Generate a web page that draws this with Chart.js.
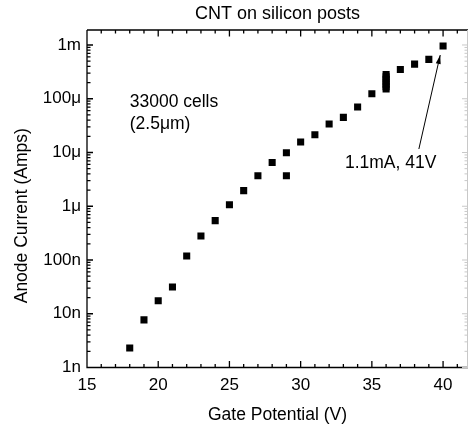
<!DOCTYPE html>
<html>
<head>
<meta charset="utf-8">
<script src="https://cdn.jsdelivr.net/npm/chart.js@4/dist/chart.umd.min.js"></script>
<style>
  html, body { margin: 0; padding: 0; background: #fff; overflow: hidden; }
  #wrap { width: 473px; height: 427px; position: relative; }
</style>
</head>
<body>
<div id="wrap"><canvas id="chart"></canvas></div>
<script>
// Gate potential (V) and anode current (A)
var gateVolts = [18, 19, 20, 21, 22, 23, 24, 25, 26, 27, 28, 29, 29, 30, 31, 32, 33, 34, 35,
  36, 36, 36, 36, 36, 36, 36, 37, 38, 39, 40];
var anodeAmps = [2.3e-9, 7.7e-9, 1.75e-8, 3.15e-8, 1.19e-7, 2.8e-7, 5.4e-7, 1.07e-6, 1.95e-6,
  3.7e-6, 6.5e-6, 9.9e-6, 3.7e-6, 1.57e-5, 2.14e-5, 3.4e-5, 4.5e-5, 7.0e-5, 1.24e-4,
  2.83e-4, 2.55e-4, 2.3e-4, 2.07e-4, 1.87e-4, 1.68e-4, 1.52e-4, 3.5e-4, 4.4e-4, 5.4e-4, 9.6e-4];

var xTickValues = [15, 20, 25, 30, 35, 40];
var yTickValues = [1e-9, 1e-8, 1e-7, 1e-6, 1e-5, 1e-4, 1e-3];
var yTickLabels = ['1n', '10n', '100n', '1\u03bc', '10\u03bc', '100\u03bc', '1m'];

var FONT = '"Liberation Sans", Arial, sans-serif';
Chart.defaults.color = '#000';
Chart.defaults.font.family = FONT;

var points = gateVolts.map(function (v, i) { return { x: v, y: anodeAmps[i] }; });

// inward tick marks and the frame, placed through the chart's own scales
var framePlugin = {
  id: 'frame',
  afterDatasetsDraw: function (chart) {
    var ctx = chart.ctx, a = chart.chartArea;
    var xs = chart.scales.x, ys = chart.scales.y;
    ctx.save();
    ctx.lineWidth = 1.3;
    ctx.strokeStyle = '#000';
    ctx.beginPath();
    ctx.moveTo(a.left, a.top); ctx.lineTo(a.right, a.top);
    ctx.moveTo(a.left, a.top); ctx.lineTo(a.left, a.bottom); ctx.lineTo(a.right, a.bottom);
    var v, px, len;
    for (v = Math.ceil(xs.min); v <= xs.max; v++) {
      px = xs.getPixelForValue(v);
      len = v % 5 === 0 ? 6.5 : 3.5;
      ctx.moveTo(px, a.bottom); ctx.lineTo(px, a.bottom - len);
      ctx.moveTo(px, a.top); ctx.lineTo(px, a.top + len);
    }
    var right = [];
    for (var d = -9; d <= -3; d++) {
      for (var m = 1; m <= 9; m++) {
        v = m * Math.pow(10, d);
        if (v > ys.max) break;
        px = ys.getPixelForValue(v);
        len = m === 1 ? 6 : 3.5;
        ctx.moveTo(a.left, px); ctx.lineTo(a.left + len, px);
        right.push([px, len]);
      }
    }
    ctx.stroke();
    ctx.strokeStyle = '#c8c8c8';
    ctx.lineWidth = 1;
    ctx.beginPath();
    ctx.moveTo(a.right - 0.5, a.top); ctx.lineTo(a.right - 0.5, a.bottom);
    right.forEach(function (r) { ctx.moveTo(a.right, r[0]); ctx.lineTo(a.right - r[1], r[0]); });
    ctx.stroke();
    ctx.restore();
  }
};

// text notes and the arrow, positioned in data units
var noteCells = { x: 18.0, y: 8.5e-5 };
var noteArrowText = { x: 36.32, y: 6.45e-6 };
var arrowFrom = { x: 38.3, y: 1.16e-5 };
var arrowTo = { x: 39.8, y: 6.5e-4 };

var notesPlugin = {
  id: 'notes',
  afterDraw: function (chart) {
    var ctx = chart.ctx, xs = chart.scales.x, ys = chart.scales.y, a = chart.chartArea;
    ctx.save();
    ctx.fillStyle = '#000';
    ctx.font = '17.5px ' + FONT;
    ctx.textBaseline = 'middle';
    ctx.textAlign = 'left';
    var cx = xs.getPixelForValue(noteCells.x), cy = ys.getPixelForValue(noteCells.y);
    ctx.fillText('33000 cells', cx, cy);
    ctx.fillText('(2.5\u03bcm)', cx, cy + 21.5);
    ctx.textAlign = 'center';
    ctx.fillText('1.1mA, 41V', xs.getPixelForValue(noteArrowText.x), ys.getPixelForValue(noteArrowText.y));

    var x1 = xs.getPixelForValue(arrowFrom.x), y1 = ys.getPixelForValue(arrowFrom.y);
    var x2 = xs.getPixelForValue(arrowTo.x), y2 = ys.getPixelForValue(arrowTo.y);
    var ang = Math.atan2(y2 - y1, x2 - x1);
    ctx.strokeStyle = '#000';
    ctx.lineWidth = 1;
    ctx.beginPath();
    ctx.moveTo(x1, y1); ctx.lineTo(x2, y2);
    ctx.stroke();
    ctx.beginPath();
    ctx.moveTo(x2, y2);
    ctx.lineTo(x2 - 9 * Math.cos(ang) + 2.5 * Math.sin(ang), y2 - 9 * Math.sin(ang) - 2.5 * Math.cos(ang));
    ctx.lineTo(x2 - 9 * Math.cos(ang) - 2.5 * Math.sin(ang), y2 - 9 * Math.sin(ang) + 2.5 * Math.cos(ang));
    ctx.closePath();
    ctx.fill();

    // y axis title sits a little below the middle of the axis in the original
    ctx.translate(22, (a.top + a.bottom) / 2 + 17);
    ctx.rotate(-Math.PI / 2);
    ctx.textAlign = 'center';
    ctx.fillText('Anode Current (Amps)', 0, 0);
    ctx.restore();
  }
};

new Chart(document.getElementById('chart').getContext('2d'), {
  type: 'scatter',
  data: {
    datasets: [{
      data: points,
      pointStyle: 'rect',
      pointRadius: 5,
      pointBorderWidth: 0,
      backgroundColor: '#000',
      borderColor: '#000',
      showLine: false
    }]
  },
  options: {
    responsive: true,
    maintainAspectRatio: false,
    animation: false,
    layout: { padding: { left: 0, right: 1, top: 0, bottom: 0 } },
    plugins: {
      legend: { display: false },
      tooltip: { enabled: false },
      title: {
        display: true,
        text: 'CNT on silicon posts',
        fullSize: false,
        color: '#000',
        font: { size: 18, weight: 'normal', family: FONT },
        padding: { top: 3, bottom: 5.4 }
      }
    },
    scales: {
      x: {
        type: 'linear',
        min: 15,
        max: 41.75,
        grid: { display: false, drawTicks: false },
        border: { display: false },
        afterBuildTicks: function (scale) {
          scale.ticks = xTickValues.map(function (v) { return { value: v }; });
        },
        afterFit: function (scale) { scale.height = 59.5; },
        ticks: { font: { size: 17 }, padding: 8, maxRotation: 0, autoSkip: false },
        title: {
          display: true,
          text: 'Gate Potential (V)',
          font: { size: 17.5 },
          padding: { top: 4, bottom: 1 }
        }
      },
      y: {
        type: 'logarithmic',
        min: 1e-9,
        max: 1.9e-3,
        grid: { display: false, drawTicks: false },
        border: { display: false },
        afterBuildTicks: function (scale) {
          scale.ticks = yTickValues.map(function (v) { return { value: v }; });
        },
        afterFit: function (scale) { scale.width = 87; },
        ticks: {
          font: { size: 17 },
          padding: 6,
          autoSkip: false,
          callback: function (value) {
            var i = yTickValues.findIndex(function (t) { return Math.abs(t - value) / t < 1e-6; });
            return i >= 0 ? yTickLabels[i] : '';
          }
        }
      }
    }
  },
  plugins: [framePlugin, notesPlugin]
});
</script>
</body>
</html>
